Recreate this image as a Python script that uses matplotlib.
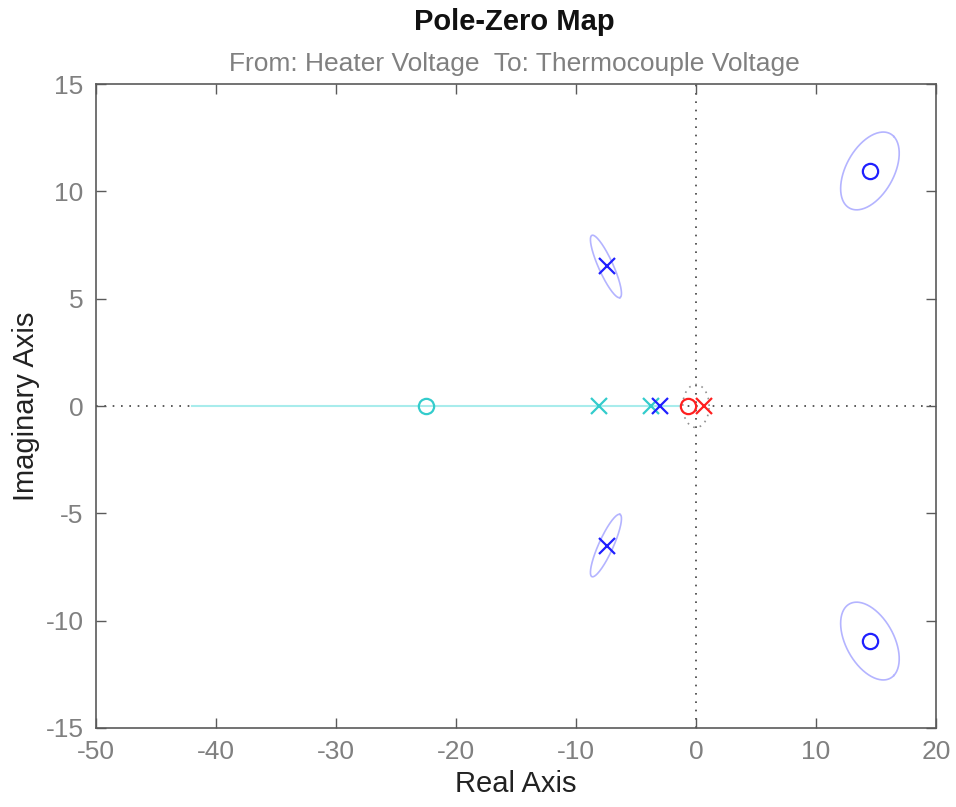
import numpy as np
import matplotlib
matplotlib.use("Agg")
import matplotlib.pyplot as plt

plt.rcParams['font.family'] = ['Liberation Sans', 'DejaVu Sans']
plt.rcParams['axes.unicode_minus'] = False

# Data
blue_poles_re = [-7.4, -7.4, -3.0]
blue_poles_im = [6.5, -6.5, 0.0]
blue_zeros_re = [14.5, 14.5]
blue_zeros_im = [10.95, -10.95]
cyan_poles_re = [-8.1, -3.75]
cyan_poles_im = [0.0, 0.0]
cyan_zeros_re = [-22.5]
cyan_zeros_im = [0.0]
cyan_range = [-42.0, -1.3]
red_poles_re = [0.67]
red_poles_im = [0.0]
red_zeros_re = [-0.67]
red_zeros_im = [0.0]

# Uncertainty ellipses: center (re, im), half-axis vector u, half-axis vector v
pole_ell_center = (-7.5, 6.5)
pole_ell_u = (1.17, -1.45)
pole_ell_v = (0.55, 0.14)
zero_ell_center = (14.5, 10.95)
zero_ell_u = (2.0, 1.6)
zero_ell_v = (1.4, -0.85)
red_ell_center = (0.0, 0.0)
red_ell_u = (1.1, 0.0)
red_ell_v = (0.0, 1.0)

xticks = [-50, -40, -30, -20, -10, 0, 10, 20]
yticks = [-15, -10, -5, 0, 5, 10, 15]

fig = plt.figure(figsize=(9.56, 8.07), dpi=100)
ax = fig.add_axes([0.1004, 0.0979, 0.8786, 0.798])

gray = '#808080'
ax.set_xlim(-50, 20)
ax.set_ylim(-15, 15)

ax.axhline(0, color='#404040', linestyle=(0, (1, 4)), linewidth=1.2, zorder=1)
ax.axvline(0, color='#404040', linestyle=(0, (1, 4)), linewidth=1.2, zorder=1)

def ellipse(c, u, v, flip=False):
    t = np.linspace(0, 2 * np.pi, 200)
    x = c[0] + u[0] * np.cos(t) + v[0] * np.sin(t)
    y = c[1] + u[1] * np.cos(t) + v[1] * np.sin(t)
    if flip:
        y = -y
    return x, y

ell_col = '#b4b4ff'
for flip in (False, True):
    ex, ey = ellipse(pole_ell_center, pole_ell_u, pole_ell_v, flip)
    ax.plot(ex, ey, color=ell_col, lw=1.2, zorder=2)
    ex, ey = ellipse(zero_ell_center, zero_ell_u, zero_ell_v, flip)
    ax.plot(ex, ey, color=ell_col, lw=1.2, zorder=2)

ex, ey = ellipse(red_ell_center, red_ell_u, red_ell_v)
ax.plot(ex, ey, color='#909090', lw=1.2, linestyle=(0, (1, 3)), zorder=2)

ax.plot(cyan_range, [0, 0], color='#a8ecec', lw=1.5, zorder=2)

ms = 11
ax.plot(cyan_poles_re, cyan_poles_im, 'x', color='#33cccc', ms=ms, mew=1.6, zorder=3)
ax.plot(cyan_zeros_re, cyan_zeros_im, 'o', color='#33cccc', mfc='none', ms=ms, mew=1.6, zorder=3)
ax.plot(blue_poles_re, blue_poles_im, 'x', color='#2020ff', ms=ms, mew=1.6, zorder=4)
ax.plot(blue_zeros_re, blue_zeros_im, 'o', color='#2020ff', mfc='none', ms=ms, mew=1.6, zorder=4)
ax.plot(red_zeros_re, red_zeros_im, 'o', color='#ff2020', mfc='none', ms=ms, mew=1.6, zorder=5)
ax.plot(red_poles_re, red_poles_im, 'x', color='#ff2020', ms=ms, mew=1.6, zorder=5)

ax.set_xticks(xticks)
ax.set_yticks(yticks)
ax.tick_params(direction='in', length=7, width=1, colors='#5a5a5a', labelcolor=gray,
               labelsize=19, top=True, right=True, pad=9)
for s in ax.spines.values():
    s.set_color('#5a5a5a')
    s.set_linewidth(1.2)

ax.set_xlabel('Real Axis', fontsize=21, color='#222222', labelpad=4)
ax.set_ylabel('Imaginary Axis', fontsize=21, color='#222222', labelpad=4)

fig.text(0.5385, 0.973, 'Pole-Zero Map', ha='center', va='center', fontsize=21,
         fontweight='bold', color='#111111')
fig.text(0.538, 0.921, 'From: Heater Voltage  To: Thermocouple Voltage', ha='center',
         va='center', fontsize=19, color=gray)

fig.savefig('out.png', dpi=100)
